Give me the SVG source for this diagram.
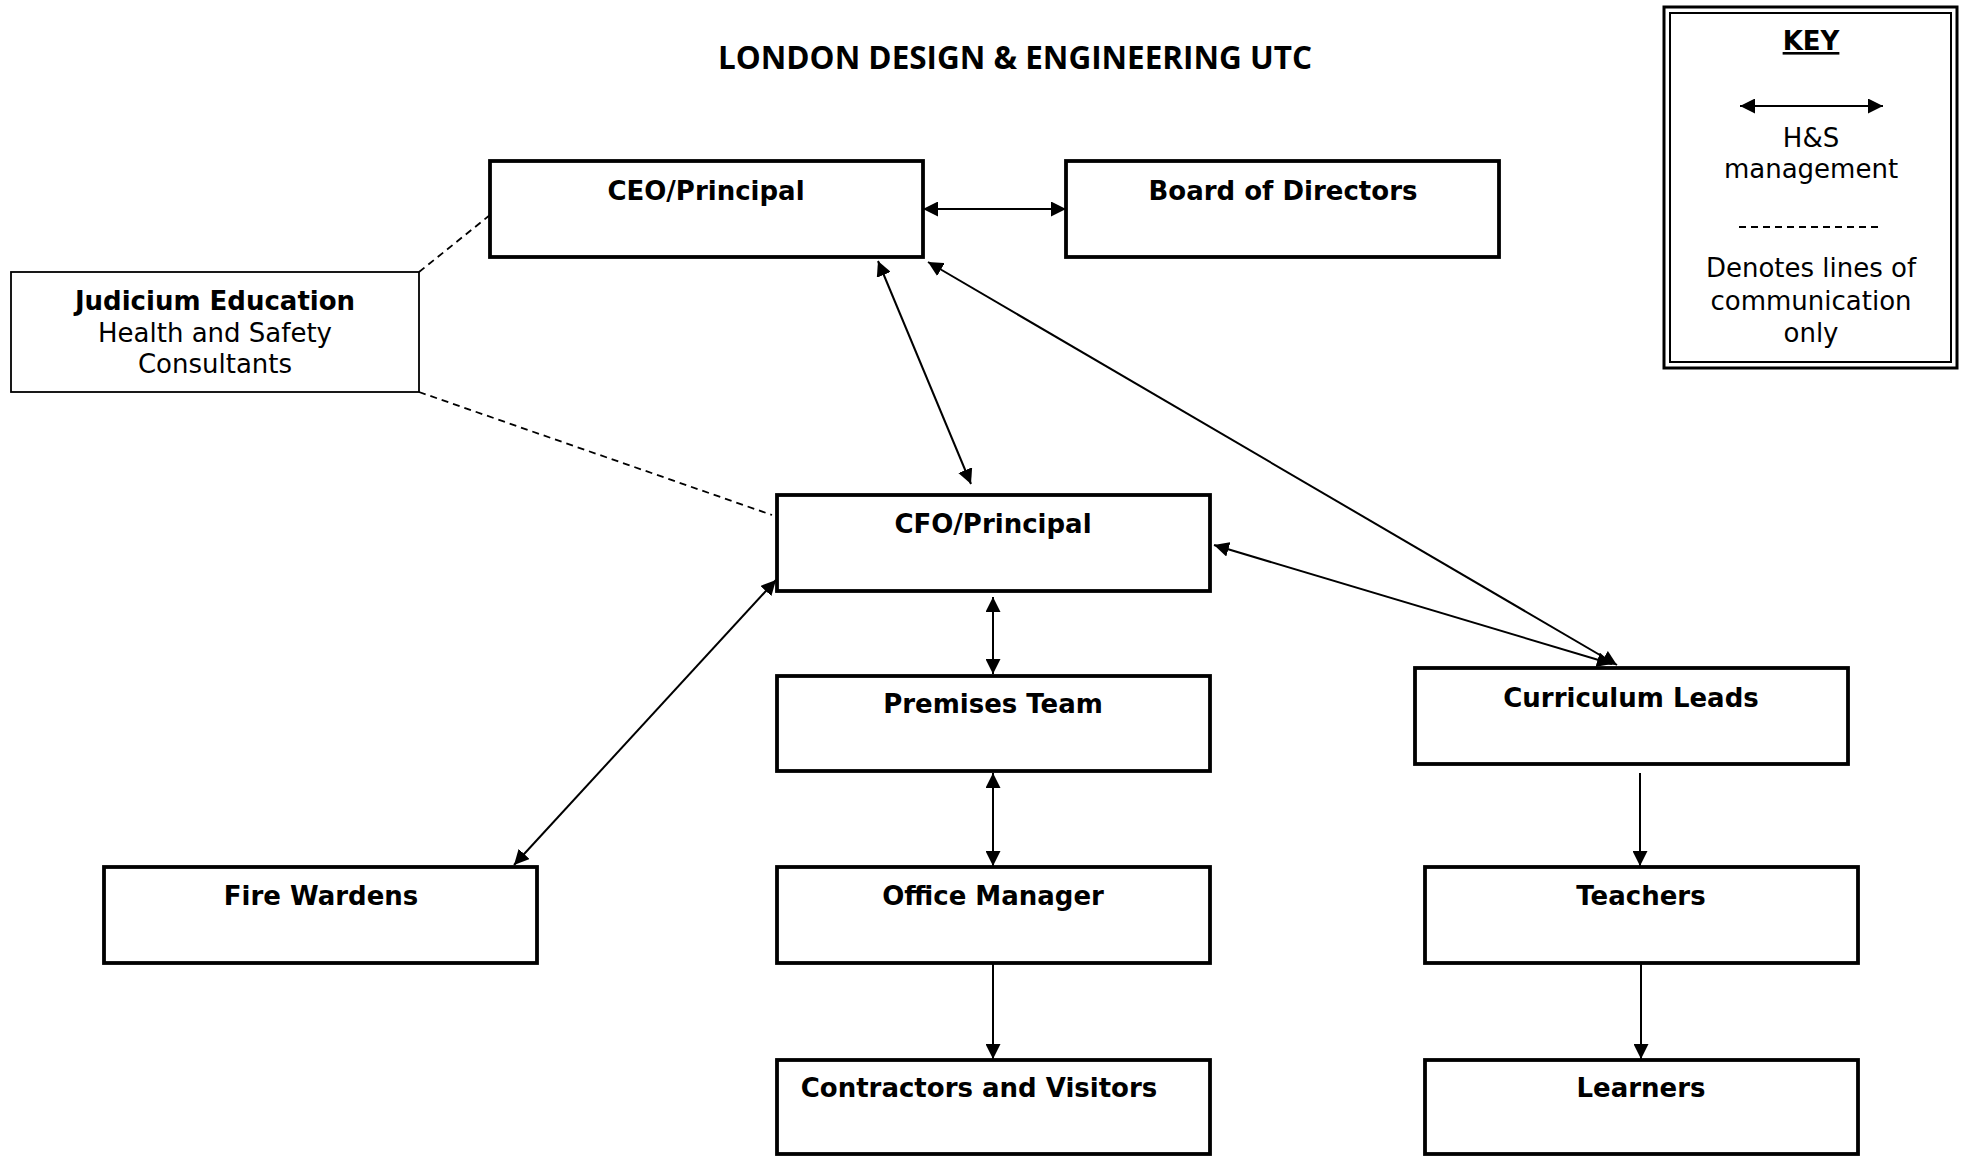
<svg xmlns="http://www.w3.org/2000/svg" width="1962" height="1156" viewBox="0 0 1962 1156">
<defs>
<marker id="ah" viewBox="0 0 15 15" refX="15" refY="7.5" markerWidth="15" markerHeight="15" markerUnits="userSpaceOnUse" orient="auto-start-reverse">
<path d="M0,0 L15,7.5 L0,15 z" fill="#000"/>
</marker>
</defs>
<style>
.box{fill:#fff;stroke:#000;stroke-width:3.8}
.thin{fill:#fff;stroke:#000;stroke-width:1.8}
.lbl{font-family:"DejaVu Sans",Verdana,sans-serif;font-weight:bold;font-size:26px;text-anchor:middle;fill:#000}
.reg{font-family:"DejaVu Sans",Verdana,sans-serif;font-size:26px;text-anchor:middle;fill:#000}
.two{fill:none;stroke:#000;stroke-width:2;marker-start:url(#ah);marker-end:url(#ah)}
.one{fill:none;stroke:#000;stroke-width:2;marker-end:url(#ah)}
.dash{fill:none;stroke:#000;stroke-width:1.8;stroke-dasharray:7 5}
</style>
<rect width="1962" height="1156" fill="#fff"/>
<text x="1015" y="69" font-family="'Open Sans','Liberation Sans',sans-serif" font-weight="bold" font-size="32" text-anchor="middle" textLength="594" lengthAdjust="spacingAndGlyphs">LONDON DESIGN &amp; ENGINEERING UTC</text>

<g id="connectors">
<line class="two" x1="923" y1="209" x2="1066" y2="209"/>
<line class="two" x1="878" y1="261" x2="971" y2="484"/>
<line class="two" x1="928" y1="262" x2="1617" y2="665"/>
<line class="two" x1="1214" y1="545" x2="1612" y2="664"/>
<line class="two" x1="993" y1="597" x2="993" y2="674"/>
<line class="two" x1="993" y1="773" x2="993" y2="866"/>
<line class="two" x1="514" y1="865" x2="776" y2="580"/>
<line class="one" x1="1640" y1="773" x2="1640" y2="866"/>
<line class="one" x1="993" y1="964" x2="993" y2="1059"/>
<line class="one" x1="1641" y1="964" x2="1641" y2="1059"/>
<line class="dash" x1="419" y1="272" x2="490" y2="215"/>
<line class="dash" x1="419" y1="392" x2="772" y2="515"/>
</g>

<g id="judicium">
<rect class="thin" x="11" y="272" width="408" height="120"/>
<text class="lbl" x="215" y="310">Judicium Education</text>
<text class="reg" x="215" y="342">Health and Safety</text>
<text class="reg" x="215" y="373">Consultants</text>
</g>
<g id="ceo">
<rect class="box" x="490" y="161" width="433" height="96"/>
<text class="lbl" x="706" y="200">CEO/Principal</text>
</g>
<g id="board">
<rect class="box" x="1066" y="161" width="433" height="96"/>
<text class="lbl" x="1283" y="200">Board of Directors</text>
</g>
<g id="cfo">
<rect class="box" x="777" y="495" width="433" height="96"/>
<text class="lbl" x="993" y="533">CFO/Principal</text>
</g>
<g id="premises">
<rect class="box" x="777" y="676" width="433" height="95"/>
<text class="lbl" x="993" y="713">Premises Team</text>
</g>
<g id="curriculum">
<rect class="box" x="1415" y="668" width="433" height="96"/>
<text class="lbl" x="1631" y="707">Curriculum Leads</text>
</g>
<g id="firewardens">
<rect class="box" x="104" y="867" width="433" height="96"/>
<text class="lbl" x="321" y="905">Fire Wardens</text>
</g>
<g id="office">
<rect class="box" x="777" y="867" width="433" height="96"/>
<text class="lbl" x="993" y="905">Office Manager</text>
</g>
<g id="teachers">
<rect class="box" x="1425" y="867" width="433" height="96"/>
<text class="lbl" x="1641" y="905">Teachers</text>
</g>
<g id="contractors">
<rect class="box" x="777" y="1060" width="433" height="94"/>
<text class="lbl" x="979" y="1097">Contractors and Visitors</text>
</g>
<g id="learners">
<rect class="box" x="1425" y="1060" width="433" height="94"/>
<text class="lbl" x="1641" y="1097">Learners</text>
</g>

<g id="key">
<rect x="1664" y="7" width="293" height="361" fill="#fff" stroke="#000" stroke-width="3"/>
<rect x="1670" y="13" width="281" height="349" fill="none" stroke="#000" stroke-width="2"/>
<text class="lbl" x="1811" y="50" text-decoration="underline">KEY</text>
<line class="two" x1="1740" y1="106" x2="1883" y2="106"/>
<text class="reg" x="1811" y="147">H&amp;S</text>
<text class="reg" x="1811" y="178">management</text>
<line x1="1739" y1="227" x2="1883" y2="227" stroke="#000" stroke-width="1.8" stroke-dasharray="7 5"/>
<text class="reg" x="1811" y="277">Denotes lines of</text>
<text class="reg" x="1811" y="310">communication</text>
<text class="reg" x="1811" y="342">only</text>
</g>
</svg>
